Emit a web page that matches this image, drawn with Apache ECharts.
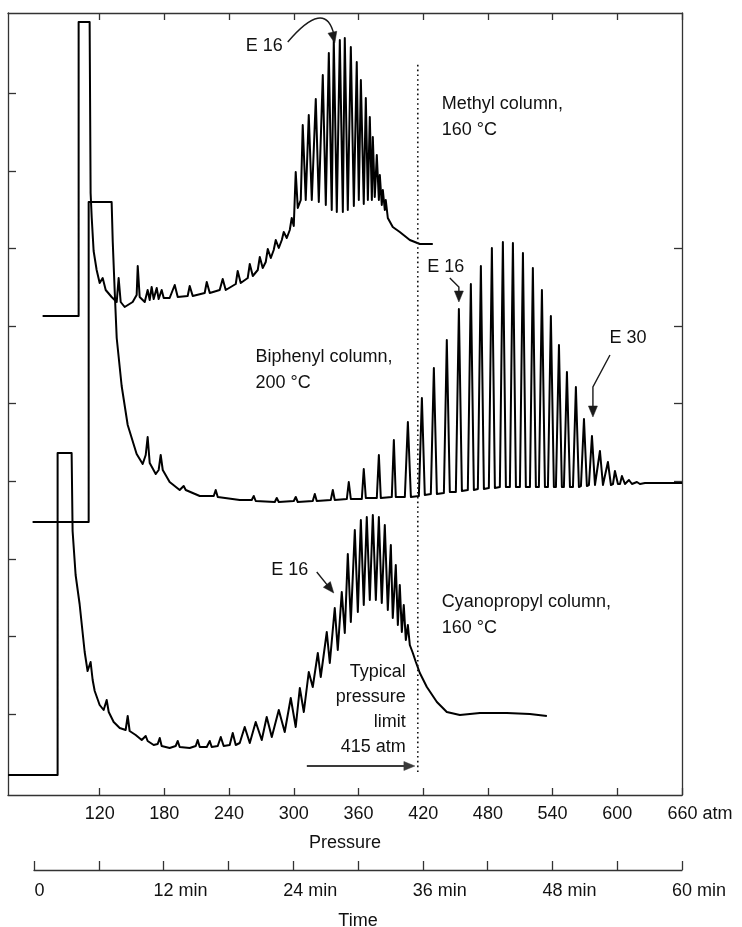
<!DOCTYPE html>
<html><head><meta charset="utf-8">
<script src="https://cdn.jsdelivr.net/npm/echarts@6/dist/echarts.min.js"></script>
<style>html,body{margin:0;padding:0;background:#fff}#c{width:742px;height:927px}</style>
</head><body><div id="c"></div>
<script>
// ---- axes ----
const pressureTicks = [120,180,240,300,360,420,480,540,600,660];
const timeTicks = [0,6,12,18,24,30,36,42,48,54,60];
const timeLabels = [0,12,24,36,48,60];
const leftTicks = [81,158.6,236.2,313.8,391.4,469,546.6,624.2,701.8];
const rightTicks = [313.8,391.4,469,546.6];
const pressureLimit = 415;

// ---- chromatograms: [pressure (atm), detector signal (arb. units)] ----
const methyl = [[67.1,479],[100.5,479],[100.5,773],[110.7,773],[111.6,602],[112.6,578],[114.4,544],[117.2,525],[120.0,512],[122.8,517],[125.6,505],[131.1,498],[135.8,493],[137.6,517],[139.5,493],[143.2,488],[150.6,493],[154.3,500],[155.3,529],[157.1,498],[161.8,493],[164.5,505],[166.4,495],[168.2,508],[170.1,496],[172.9,507],[174.7,496],[177.5,505],[179.4,497],[184.9,497],[189.6,510],[192.4,498],[201.6,499],[203.5,509],[206.3,499],[217.4,502],[219.3,513],[222.1,502],[231.3,505],[234.1,516],[236.9,505],[246.2,511],[248.0,524],[250.8,512],[257.3,517],[259.2,531],[262.0,519],[266.6,525],[268.5,538],[271.2,527],[274.0,533],[275.9,546],[278.7,537],[281.4,545],[283.3,555],[286.1,547],[288.9,555],[290.7,563],[293.5,557],[296.3,565],[298.1,577],[300.0,569],[301.8,623],[303.7,587],[306.5,595],[308.3,670],[311.1,595],[313.9,680],[316.7,595],[320.4,696],[323.2,593],[326.9,720],[329.7,590],[332.5,742],[335.2,585],[337.1,755],[339.9,583],[342.7,755],[345.5,583],[347.3,757],[350.1,585],[352.9,748],[355.7,589],[358.4,733],[360.3,595],[362.2,715],[364.9,591],[366.8,697],[368.7,595],[370.5,678],[372.4,595],[373.3,658],[375.1,598],[377.0,640],[378.9,595],[379.8,620],[381.6,590],[382.6,605],[384.4,585],[385.3,595],[387.2,577],[391.8,568],[398.3,563],[407.6,555],[416.9,551],[428.9,551]];

const biphenyl = [[57.8,273],[109.8,273],[109.8,593],[131.1,593],[132.1,554],[133.9,505],[135.8,457],[140.4,409],[146.0,370],[154.3,341],[159.9,331],[162.7,340],[164.5,358],[166.4,332],[172.0,321],[174.7,325],[176.6,340],[178.5,325],[184.9,313],[194.2,305],[197.9,309],[199.8,305],[212.8,299],[225.8,299],[227.6,305],[229.5,298],[249.9,295],[261.0,295],[262.9,299],[264.7,294],[282.4,293],[284.2,297],[286.1,293],[300.0,294],[301.8,298],[303.7,293],[317.6,294],[319.5,301],[321.3,294],[334.3,295],[336.2,305],[338.0,295],[349.2,296],[351.0,313],[352.9,296],[363.1,296],[364.9,326],[366.8,297],[377.0,297],[378.9,340],[380.7,297],[390.9,298],[392.8,355],[394.6,298],[403.0,298],[405.8,373],[408.6,298],[416.0,299],[418.8,397],[421.5,300],[427.1,301],[429.9,427],[432.7,301],[439.2,302],[441.9,455],[444.7,303],[450.3,303],[453.1,486],[455.9,304],[461.4,305],[464.2,511],[467.0,305],[470.7,306],[473.5,529],[476.3,306],[480.9,307],[483.7,547],[486.5,307],[491.1,308],[493.9,553],[496.7,308],[500.4,308],[503.2,552],[506.0,308],[509.7,308],[512.5,542],[515.2,308],[519.0,308],[521.7,527],[524.5,308],[527.3,308],[530.1,505],[532.9,308],[535.7,308],[538.4,479],[541.2,308],[543.1,308],[545.9,450],[548.6,308],[550.5,308],[553.3,423],[556.1,308],[558.9,308],[561.6,408],[564.4,308],[566.3,309],[569.1,376],[571.8,309],[573.7,310],[576.5,359],[579.3,310],[581.1,310],[583.9,344],[586.7,310],[588.5,310],[591.3,333],[594.1,310],[596.0,311],[597.8,324],[600.6,311],[602.5,311],[604.3,319],[607.1,311],[608.9,311],[610.8,315],[613.6,311],[615.4,312],[618.2,313],[621.0,311],[625.7,312],[660.0,312]];

const cyanopropyl = [[35.1,20],[81.0,20],[81.0,342],[94.0,342],[94.9,264],[97.7,220],[101.4,191],[106.1,143],[108.8,124],[111.6,133],[113.5,115],[115.4,104],[120.0,90],[123.7,85],[126.5,95],[128.4,83],[133.0,73],[138.6,67],[144.1,65],[146.0,79],[147.8,64],[153.4,60],[159.0,55],[162.7,59],[164.5,54],[170.1,50],[173.8,51],[175.7,57],[177.5,49],[184.9,47],[190.5,49],[192.4,54],[194.2,48],[203.5,47],[209.1,49],[210.9,55],[212.8,48],[219.3,48],[222.1,54],[223.9,48],[229.5,49],[232.3,58],[235.0,49],[240.6,50],[243.4,62],[246.2,50],[249.9,52],[254.5,68],[259.2,52],[264.7,73],[270.3,55],[274.9,78],[279.6,58],[286.1,85],[291.6,63],[297.2,97],[301.8,68],[305.6,107],[309.3,83],[313.9,123],[317.6,108],[322.3,142],[325.0,118],[330.6,163],[333.4,132],[338.0,187],[340.8,145],[344.5,203],[347.3,162],[350.1,241],[352.9,173],[356.6,265],[359.4,183],[362.2,275],[364.9,190],[367.7,278],[370.5,195],[373.3,280],[376.1,195],[378.9,278],[381.6,192],[384.4,270],[387.2,185],[390.0,250],[391.8,177],[394.6,230],[396.5,170],[398.3,210],[400.2,163],[402.0,190],[403.9,155],[405.8,170],[407.6,150],[410.4,142],[413.2,133],[416.9,122],[423.4,108],[432.7,93],[441.9,83],[454.0,80],[472.6,82],[497.6,82],[518.9,81],[534.7,79]];

const FONT = '"Liberation Sans", Arial, Helvetica, sans-serif';
const FS = 18;
const INK = '#111';
const AX = '#333';

const chart = echarts.init(document.getElementById('c'), null, {renderer:'canvas'});

const traceStyle = {color:'#000', width:2, join:'round'};
function trace(name, data){
  return {name, type:'line', xAxisIndex:0, yAxisIndex:0, data, showSymbol:false, symbol:'none',
          lineStyle:traceStyle, itemStyle:{color:'#000'}, animation:false, silent:true, z:3};
}

const option = {
  animation:false,
  backgroundColor:'#fff',
  textStyle:{fontFamily:FONT},
  grid:[
    {left:8, top:13, width:674, height:782, containLabel:false, outerBoundsMode:'none'},
    {left:34, top:860, width:648, height:10, containLabel:false, outerBoundsMode:'none'}
  ],
  xAxis:[
    {gridIndex:0, type:'value', min:35, max:660, position:'bottom',
     axisLine:{show:true, onZero:false, lineStyle:{color:AX, width:1.3}},
     axisTick:{show:true, inside:true, length:7, customValues:pressureTicks, lineStyle:{color:AX, width:1.3}},
     axisLabel:{show:true, customValues:pressureTicks, margin:10, color:INK, fontSize:FS, fontFamily:FONT,
       formatter:v => v===660 ? '{u|660 atm}' : String(v),
       rich:{u:{fontSize:FS, fontFamily:FONT, color:INK, padding:[0,0,0,36]}}},
     splitLine:{show:false},
     name:'Pressure', nameLocation:'middle', nameGap:39,
     nameTextStyle:{fontSize:FS, fontFamily:FONT, color:INK}},
    {gridIndex:0, type:'value', min:35, max:660, position:'top',
     axisLine:{show:true, onZero:false, lineStyle:{color:AX, width:1.3}},
     axisTick:{show:true, inside:true, length:7, customValues:pressureTicks, lineStyle:{color:AX, width:1.3}},
     axisLabel:{show:false}, splitLine:{show:false}},
    {gridIndex:1, type:'value', min:0, max:60, position:'bottom',
     axisLine:{show:true, onZero:false, lineStyle:{color:AX, width:1.3}},
     axisTick:{show:true, inside:true, length:9, customValues:timeTicks, lineStyle:{color:AX, width:1.3}},
     axisLabel:{show:true, customValues:timeLabels, margin:12, color:INK, fontSize:FS, fontFamily:FONT,
       formatter:v => v===0 ? '{z|0}' : '{m|'+v+' min}',
       rich:{z:{fontSize:FS, fontFamily:FONT, color:INK, padding:[0,0,0,11]},
             m:{fontSize:FS, fontFamily:FONT, color:INK, padding:[0,0,0,34]}}},
     splitLine:{show:false},
     name:'Time', nameLocation:'middle', nameGap:42,
     nameTextStyle:{fontSize:FS, fontFamily:FONT, color:INK}}
  ],
  yAxis:[
    {gridIndex:0, type:'value', min:0, max:782, position:'left',
     axisLine:{show:true, onZero:false, lineStyle:{color:AX, width:1.3}},
     axisTick:{show:true, inside:true, length:8, customValues:leftTicks, lineStyle:{color:AX, width:1.3}},
     axisLabel:{show:false}, splitLine:{show:false}},
    {gridIndex:0, type:'value', min:0, max:782, position:'right',
     axisLine:{show:true, onZero:false, lineStyle:{color:AX, width:1.3}},
     axisTick:{show:true, inside:true, length:8, customValues:rightTicks, lineStyle:{color:AX, width:1.3}},
     axisLabel:{show:false}, splitLine:{show:false}},
    {gridIndex:1, type:'value', min:0, max:1, show:false}
  ],
  series:[
    trace('Methyl column, 160 °C', methyl),
    trace('Biphenyl column, 200 °C', biphenyl),
    trace('Cyanopropyl column, 160 °C', cyanopropyl),
    {type:'line', xAxisIndex:2, yAxisIndex:2, data:[], showSymbol:false, silent:true}
  ]
};
chart.setOption(option);

// ---- annotations (positions in data units: [atm, signal]) ----
const labelsData = [
  {t:'E 16', at:[289.8,749], align:'right'},
  {t:'Methyl column,', at:[437.3,691], align:'left'},
  {t:'160 °C', at:[437.3,665], align:'left'},
  {t:'Biphenyl column,', at:[264.5,438], align:'left'},
  {t:'200 °C', at:[264.5,412], align:'left'},
  {t:'E 16', at:[441.0,528], align:'center'},
  {t:'E 30', at:[609.9,457], align:'center'},
  {t:'E 16', at:[296.3,225], align:'center'},
  {t:'Cyanopropyl column,', at:[437.3,193], align:'left'},
  {t:'160 °C', at:[437.3,167], align:'left'},
  {t:'Typical', at:[403.9,123], align:'right'},
  {t:'pressure', at:[403.9,98], align:'right'},
  {t:'limit', at:[403.9,73], align:'right'},
  {t:'415 atm', at:[403.9,48], align:'right'}
];
const bentArrows = [
  [[444.7,517],[453.1,508],[453.1,493]],
  [[593.2,440],[577.4,408],[577.4,378]],
  [[321.3,223],[337.1,202]],
  [[312.1,29],[412.3,29]]
];
const curvedArrow = {from:[294.4,753], ctrl:[328.8,796.5], to:[337.1,761]};
const limitLine = [[pressureLimit,23],[pressureLimit,732]];

function P(d){ return chart.convertToPixel({seriesIndex:0}, d); }
function head(tip, from, len, half, col){
  const dx = tip[0]-from[0], dy = tip[1]-from[1];
  const L = Math.hypot(dx,dy) || 1; const ux = dx/L, uy = dy/L;
  const bx = tip[0]-ux*len, by = tip[1]-uy*len;
  return {type:'polygon', shape:{points:[tip,[bx-uy*half, by+ux*half],[bx+uy*half, by-ux*half]]},
          style:{fill:col, stroke:col, lineWidth:0.5}, z:10, silent:true};
}
const g = [];
labelsData.forEach(l => {
  const p = P(l.at);
  g.push({type:'text', x:p[0], y:p[1], z:10, silent:true,
    style:{text:l.t, fill:INK, font:FS+'px '+FONT, fontSize:FS, fontFamily:FONT,
           align:l.align, textAlign:l.align, verticalAlign:'middle', textVerticalAlign:'middle'}});
});
bentArrows.forEach((a, i) => {
  const col = i === 3 ? '#3a3a3a' : '#1a1a1a';
  const pts = a.map(P);
  const tip = pts[pts.length-1], prev = pts[pts.length-2];
  const dx = tip[0]-prev[0], dy = tip[1]-prev[1]; const L = Math.hypot(dx,dy);
  const end = [tip[0]-dx/L*6, tip[1]-dy/L*6];
  g.push({type:'polyline', shape:{points:pts.slice(0,-1).concat([end])}, style:{stroke:col, lineWidth:i===3?1.8:1.4, fill:null}, z:10, silent:true});
  g.push(head(tip, prev, 11, 4.5, col));
});
(function(){
  const a = P(curvedArrow.from), c = P(curvedArrow.ctrl), b = P(curvedArrow.to);
  g.push({type:'bezierCurve', shape:{x1:a[0], y1:a[1], x2:b[0], y2:b[1], cpx1:c[0], cpy1:c[1]},
          style:{stroke:'#1a1a1a', lineWidth:1.4, fill:null}, z:10, silent:true});
  const tip = [b[0]+1, b[1]+9];
  g.push(head(tip, c, 11, 4.5, '#1a1a1a'));
})();
(function(){
  const a = P(limitLine[0]), b = P(limitLine[1]);
  g.push({type:'line', shape:{x1:a[0], y1:a[1], x2:b[0], y2:b[1]},
          style:{stroke:'#111', lineWidth:1.6, lineDash:[1.6,3.2]}, z:9, silent:true});
})();
chart.setOption({graphic:g});
</script></body></html>
